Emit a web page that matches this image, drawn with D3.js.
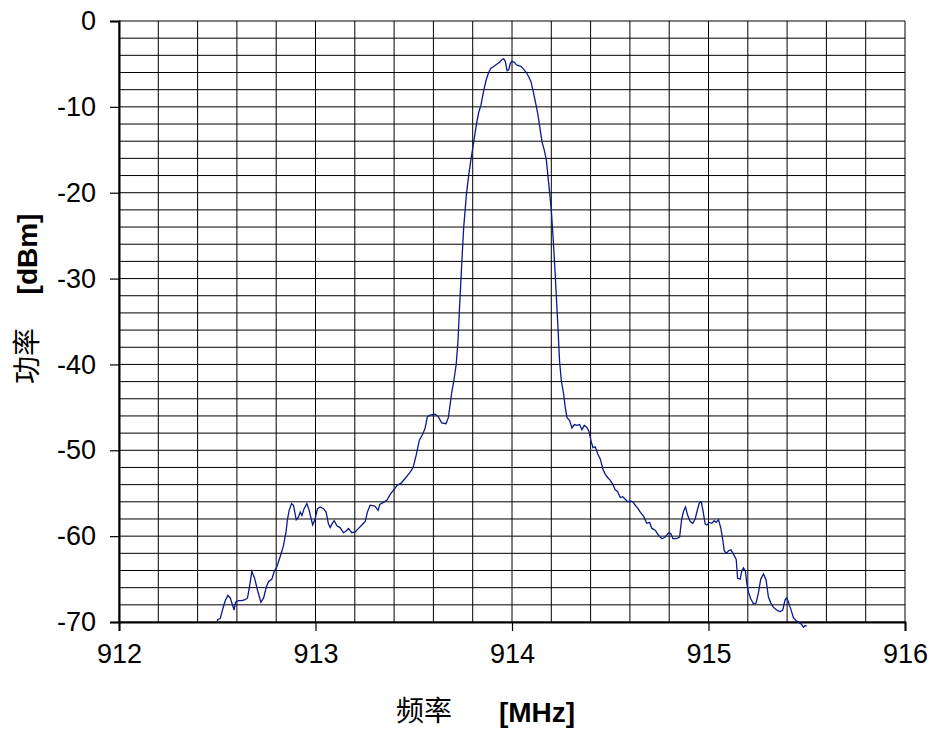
<!DOCTYPE html>
<html>
<head>
<meta charset="utf-8">
<script src="https://cdn.jsdelivr.net/npm/d3@7"></script>
<style>
  body { margin: 0; background: #fff; }
  text { font-family: "Liberation Sans", Arial, sans-serif; fill: #000; }
  .cjk { font-family: "Noto Sans CJK SC", sans-serif; }
</style>
</head>
<body>
<div id="chart"></div>
<script>
// spectrum trace (MHz, dBm)
const freq = [
  912.500, 912.502, 912.515, 912.529, 912.541, 912.554, 912.566, 912.576, 912.586, 912.593,
  912.608, 912.625, 912.642, 912.654, 912.664, 912.676, 912.690, 912.705, 912.722, 912.736,
  912.750, 912.761, 912.778, 912.790, 912.803, 912.820, 912.837, 912.850, 912.857, 912.866,
  912.878, 912.888, 912.902, 912.913, 912.922, 912.931, 912.942, 912.956, 912.968, 912.978,
  912.986, 912.998, 913.010, 913.024, 913.041, 913.054, 913.066, 913.075, 913.083, 913.095,
  913.109, 913.125, 913.142, 913.156, 913.168, 913.185, 913.202, 913.219, 913.236, 913.253,
  913.264, 913.278, 913.302, 913.319, 913.327, 913.344, 913.364, 913.381, 913.395, 913.415,
  913.437, 913.459, 913.480, 913.497, 913.512, 913.529, 913.546, 913.558, 913.569, 913.583,
  913.608, 913.625, 913.642, 913.664, 913.676, 913.685, 913.693, 913.704, 913.716, 913.725,
  913.733, 913.744, 913.754, 913.768, 913.780, 913.792, 913.805, 913.819, 913.831, 913.842,
  913.856, 913.868, 913.881, 913.893, 913.907, 913.924, 913.937, 913.949, 913.958, 913.966,
  913.975, 913.983, 913.992, 914.000, 914.012, 914.022, 914.034, 914.046, 914.059, 914.073,
  914.085, 914.097, 914.107, 914.119, 914.131, 914.141, 914.153, 914.164, 914.175, 914.183,
  914.192, 914.200, 914.208, 914.217, 914.225, 914.234, 914.242, 914.251, 914.263, 914.271,
  914.280, 914.293, 914.305, 914.317, 914.331, 914.344, 914.356, 914.368, 914.381, 914.392,
  914.402, 914.412, 914.424, 914.436, 914.449, 914.463, 914.475, 914.488, 914.500, 914.514,
  914.525, 914.537, 914.551, 914.564, 914.576, 914.588, 914.602, 914.615, 914.627, 914.639,
  914.653, 914.670, 914.686, 914.700, 914.712, 914.729, 914.746, 914.763, 914.780, 914.797,
  914.808, 914.819, 914.836, 914.853, 914.863, 914.873, 914.883, 914.893, 914.907, 914.920,
  914.932, 914.944, 914.954, 914.963, 914.971, 914.983, 914.992, 915.005, 915.017, 915.029,
  915.039, 915.051, 915.063, 915.073, 915.080, 915.090, 915.102, 915.114, 915.127, 915.141,
  915.148, 915.161, 915.169, 915.178, 915.188, 915.195, 915.203, 915.215, 915.229, 915.242,
  915.254, 915.266, 915.280, 915.293, 915.305, 915.317, 915.331, 915.347, 915.364, 915.378,
  915.390, 915.398, 915.407, 915.419, 915.432, 915.449, 915.463, 915.475, 915.483, 915.492,
  915.500
];
const power = [
  -70.0, -69.7, -69.6, -68.4, -67.5, -66.9, -67.2, -67.9, -68.6, -67.7,
  -67.5, -67.5, -67.4, -67.2, -65.9, -64.1, -64.9, -66.3, -67.7, -67.2,
  -65.9, -65.3, -65.0, -64.1, -63.6, -62.4, -61.1, -59.5, -58.1, -57.0,
  -56.2, -56.4, -58.1, -57.8, -57.2, -57.6, -56.8, -56.2, -57.0, -58.0,
  -58.7, -58.0, -56.8, -56.6, -56.8, -57.2, -58.6, -59.0, -58.6, -58.2,
  -58.8, -59.0, -59.6, -59.4, -59.1, -59.6, -59.5, -59.1, -58.7, -58.3,
  -57.2, -56.4, -56.5, -57.0, -56.3, -56.1, -55.8, -55.1, -54.7, -54.1,
  -53.8, -53.2, -52.6, -52.0, -50.6, -48.8, -48.1, -47.4, -46.1, -45.9,
  -45.8, -46.1, -46.8, -46.9, -46.2, -44.7, -43.3, -41.9, -40.0, -37.3,
  -33.4, -28.4, -24.1, -20.2, -17.9, -16.0, -14.1, -12.0, -10.6, -9.8,
  -8.1, -6.9, -6.0, -5.5, -5.3, -5.0, -4.8, -4.5, -4.4, -4.7,
  -5.8, -5.7, -4.9, -4.7, -4.8, -5.1, -5.2, -5.3, -5.6, -6.0,
  -6.5, -7.1, -8.1, -9.4, -10.8, -12.3, -14.1, -15.0, -16.2, -18.1,
  -20.1, -22.0, -24.8, -28.3, -31.8, -35.7, -39.6, -41.9, -43.5, -45.0,
  -46.2, -46.5, -47.4, -47.0, -47.1, -47.0, -47.6, -47.1, -47.3, -47.8,
  -48.9, -49.7, -49.6, -50.4, -51.0, -52.2, -52.8, -53.2, -53.5, -54.0,
  -54.6, -54.8, -55.5, -55.4, -55.7, -56.0, -55.9, -56.0, -56.4, -56.7,
  -57.2, -57.7, -58.5, -58.4, -59.1, -59.3, -59.9, -60.3, -60.1, -59.6,
  -59.7, -60.3, -60.3, -60.1, -58.1, -57.1, -56.6, -57.5, -58.3, -58.5,
  -58.0, -56.9, -56.1, -56.0, -56.9, -58.6, -58.7, -58.4, -58.5, -58.2,
  -58.4, -58.1, -59.1, -60.5, -61.7, -62.0, -61.7, -61.6, -62.1, -62.7,
  -64.9, -65.0, -64.1, -63.7, -64.1, -65.5, -66.5, -67.3, -67.9, -67.8,
  -66.6, -65.0, -64.4, -65.1, -67.1, -67.8, -68.3, -68.6, -68.8, -68.6,
  -67.4, -67.2, -67.7, -68.5, -69.5, -69.9, -70.1, -70.3, -70.6, -70.4,
  -70.5
];

const xTicks = [912, 913, 914, 915, 916];
const yTicks = [0, -10, -20, -30, -40, -50, -60, -70];
const xTitle = '频率', xUnit = '[MHz]';
const yTitle = '功率', yUnit = '[dBm]';

const W = 932, H = 731;
const margin = {top: 21, right: 27, bottom: 109, left: 119};
const iw = W - margin.left - margin.right;
const ih = H - margin.top - margin.bottom;

const svg = d3.select('#chart').append('svg')
  .attr('width', W)
  .attr('height', H);

const g = svg.append('g')
  .attr('transform', `translate(${margin.left},${margin.top})`);

const x = d3.scaleLinear().domain([912, 916]).range([0, iw]);
const y = d3.scaleLinear().domain([-70, 0]).range([ih, 0]);

// grid
g.append('g').selectAll('line')
  .data(d3.range(0, 21).map(i => 912 + i * 0.2))
  .enter().append('line')
  .attr('x1', d => x(d)).attr('x2', d => x(d))
  .attr('y1', 0).attr('y2', ih)
  .attr('stroke', '#000').attr('stroke-width', 1);

g.append('g').selectAll('line')
  .data(d3.range(0, 36).map(i => -70 + i * 2))
  .enter().append('line')
  .attr('x1', 0).attr('x2', iw)
  .attr('y1', d => y(d)).attr('y2', d => y(d))
  .attr('stroke', '#000').attr('stroke-width', 1);

// axes
const xAxis = g.append('g')
  .attr('transform', `translate(0,${ih})`)
  .call(d3.axisBottom(x).tickValues(xTicks).tickSize(9).tickPadding(13).tickFormat(d3.format('d')));
const yAxis = g.append('g')
  .call(d3.axisLeft(y).tickValues(yTicks).tickSize(9).tickPadding(14).tickFormat(d => d === 0 ? '0' : '-' + Math.abs(d)));

[xAxis, yAxis].forEach(a => {
  a.select('.domain').attr('stroke', '#000').attr('stroke-width', 2);
  a.selectAll('.tick line').attr('stroke', '#000').attr('stroke-width', 1.2);
  a.selectAll('.tick text')
    .style('font-family', '"Liberation Sans", Arial, sans-serif')
    .style('font-size', '27px')
    .attr('fill', '#000');
});
xAxis.selectAll('.tick text').attr('dy', '0.71em');

// trace
const line = d3.line()
  .x((d, i) => x(freq[i]))
  .y(d => y(d));

g.append('path')
  .datum(power)
  .attr('fill', 'none')
  .attr('stroke', '#0a1a8a')
  .attr('stroke-width', 1.3)
  .attr('d', line);

// titles
svg.append('text').attr('class', 'cjk')
  .attr('x', 424).attr('y', 721)
  .attr('text-anchor', 'middle')
  .style('font-size', '28px')
  .text(xTitle);
svg.append('text')
  .attr('x', 537).attr('y', 722)
  .attr('text-anchor', 'middle')
  .style('font-size', '28px').style('font-weight', 'bold')
  .text(xUnit);

svg.append('text').attr('class', 'cjk')
  .attr('transform', 'translate(37,356) rotate(-90)')
  .attr('text-anchor', 'middle')
  .style('font-size', '28px')
  .text(yTitle);
svg.append('text')
  .attr('transform', 'translate(37,254) rotate(-90)')
  .attr('text-anchor', 'middle')
  .style('font-size', '28px').style('font-weight', 'bold')
  .text(yUnit);
</script>
</body>
</html>
